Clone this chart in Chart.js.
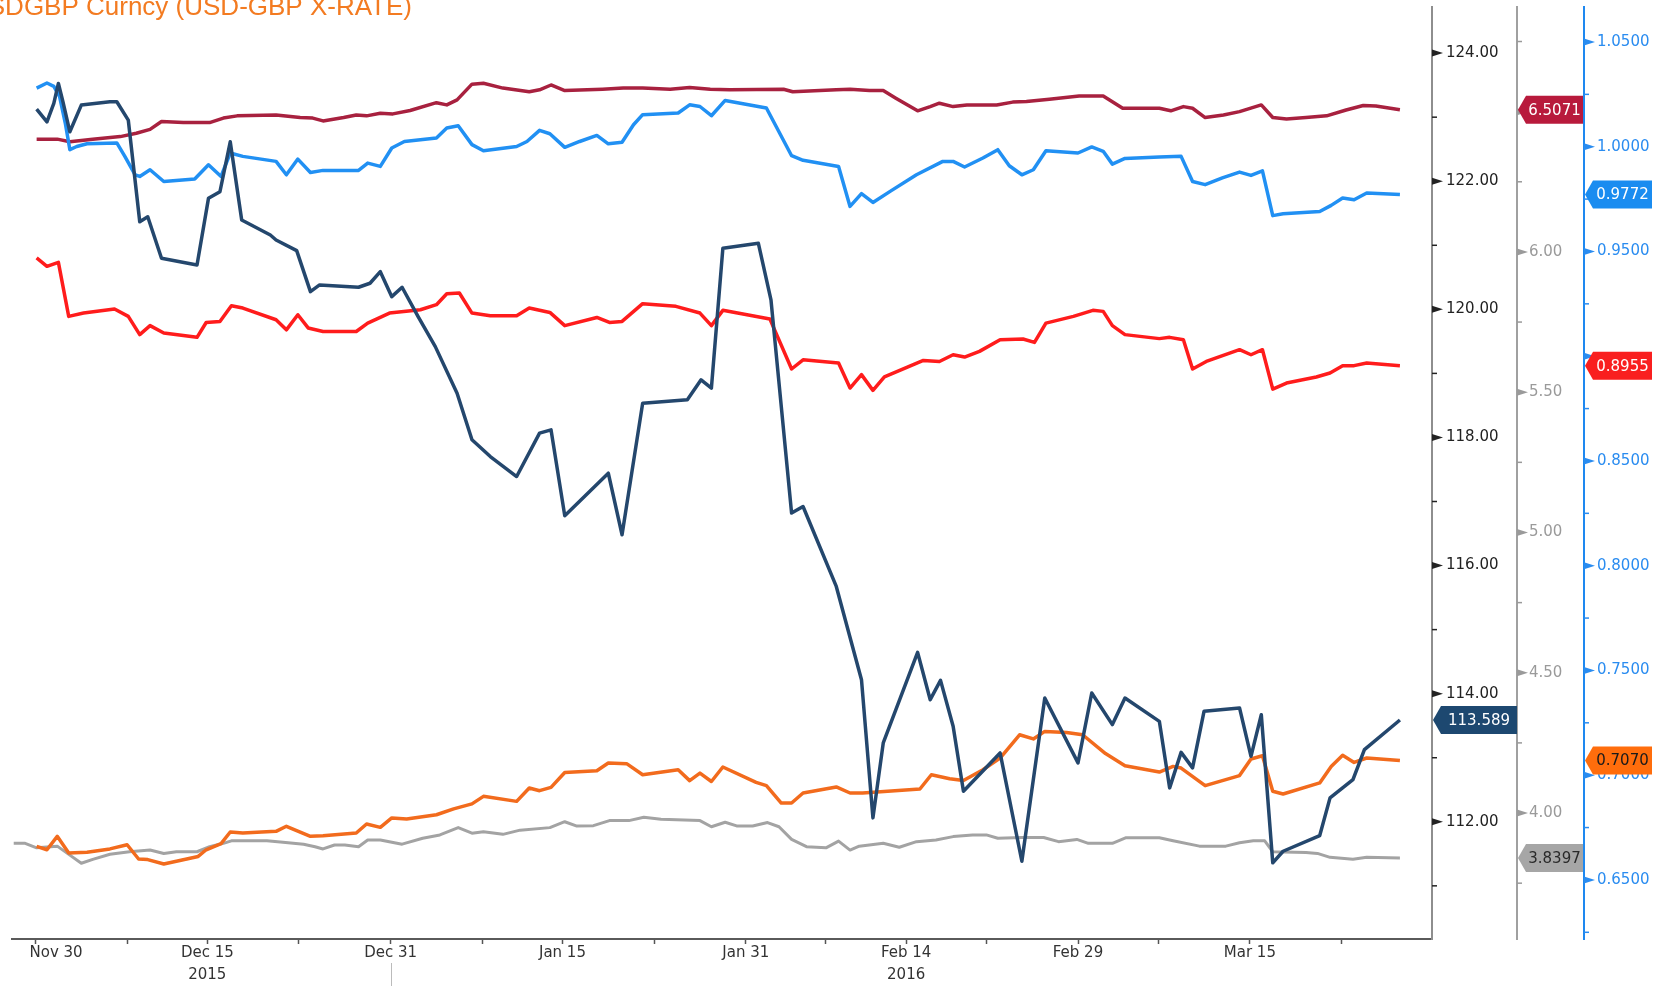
<!DOCTYPE html>
<html>
<head>
<meta charset="utf-8">
<title>USDGBP Curncy (USD-GBP X-RATE)</title>
<script src="https://cdn.jsdelivr.net/npm/chart.js@4.4.1/dist/chart.umd.min.js"></script>
<style>
  html, body { margin: 0; padding: 0; background: #fff; }
  #wrap { position: relative; width: 1663px; height: 986px; }
</style>
</head>
<body>
<div id="wrap"><canvas id="myChart" width="1663" height="986"></canvas></div>
<script>
// x values are days counted from 2015-11-30
const startDate = "2015-11-30";

// x axis labels
const dateTickDates = ["2015-11-30", "2015-12-15", "2015-12-31", "2016-01-15", "2016-01-31", "2016-02-14", "2016-02-29", "2016-03-15"];
const dateTickLabels = ["Nov 30", "Dec 15", "Dec 31", "Jan 15", "Jan 31", "Feb 14", "Feb 29", "Mar 15"];
const yearLabels = ["", "2015", "", "", "", "2016", "", ""];
const minorTickDates = ["2015-12-08", "2015-12-23", "2016-01-08", "2016-01-23", "2016-02-07", "2016-02-21", "2016-03-07", "2016-03-23"];

// y axis labels
const jpyTicks = [112, 114, 116, 118, 120, 122, 124];
const cnyTicks = [4.0, 4.5, 5.0, 5.5, 6.0, 6.5];
const fxTicks = [0.65, 0.70, 0.75, 0.80, 0.85, 0.90, 0.95, 1.00, 1.05];

// USDJPY (navy, left-most right axis)
const jpyDays = [0.1, 1.0, 1.6, 2.0, 2.4, 3.0, 4.0, 6.5, 7.1, 8.1, 9.1, 9.8, 11.0, 14.1, 15.1, 16.1, 17.0, 18.0, 20.5, 21.0, 22.8, 24.0, 24.8, 28.2, 29.2, 30.1, 31.1, 32.0, 33.4, 34.9, 36.8, 38.1, 39.7, 42.0, 44.0, 45.0, 46.2, 50.0, 51.2, 53.0, 56.9, 58.1, 59.0, 60.0, 63.1, 64.2, 66.0, 67.0, 69.9, 72.1, 73.1, 74.0, 77.0, 78.1, 79.0, 80.1, 81.0, 84.2, 86.1, 88.1, 91.0, 92.2, 94.0, 95.1, 98.1, 99.0, 100.0, 101.0, 102.0, 105.1, 106.1, 107.0, 108.0, 108.9, 112.1, 113.0, 115.0, 116.0, 119.1];
const jpyVals = [123.126, 122.928, 123.215, 123.527, 123.240, 122.772, 123.189, 123.240, 123.240, 122.955, 121.368, 121.446, 120.797, 120.693, 121.733, 121.836, 122.616, 121.395, 121.161, 121.083, 120.916, 120.276, 120.381, 120.345, 120.407, 120.588, 120.198, 120.345, 119.886, 119.418, 118.691, 117.963, 117.702, 117.390, 118.067, 118.119, 116.777, 117.443, 116.481, 118.535, 118.587, 118.899, 118.769, 120.953, 121.031, 120.147, 116.819, 116.922, 115.674, 114.218, 112.061, 113.231, 114.644, 113.906, 114.207, 113.490, 112.476, 113.075, 111.384, 113.933, 112.919, 114.011, 113.517, 113.933, 113.568, 112.529, 113.084, 112.841, 113.724, 113.777, 113.022, 113.672, 111.359, 111.540, 111.785, 112.373, 112.658, 113.126, 113.589];

// USDCNY (crimson, grey axis)
const cnyDays = [0.1, 1.9, 3.0, 5.0, 7.4, 8.8, 10.0, 11.0, 12.9, 15.2, 16.4, 17.6, 21.0, 23.1, 24.2, 25.1, 26.9, 28.0, 28.9, 30.1, 31.2, 32.7, 35.0, 35.9, 36.8, 38.1, 39.1, 40.8, 43.1, 44.0, 45.0, 46.2, 49.5, 51.3, 53.0, 55.4, 57.1, 58.9, 60.6, 65.3, 66.1, 69.9, 71.1, 72.8, 74.0, 75.1, 77.0, 78.1, 78.9, 80.1, 81.3, 83.9, 85.3, 86.5, 88.5, 91.1, 93.2, 94.9, 98.1, 99.1, 100.2, 101.0, 102.1, 103.7, 105.1, 107.0, 108.0, 109.2, 110.9, 112.7, 114.4, 115.9, 117.0, 119.1];
const cnyVals = [6.402, 6.402, 6.393, 6.402, 6.411, 6.423, 6.437, 6.465, 6.461, 6.461, 6.477, 6.485, 6.488, 6.479, 6.477, 6.467, 6.479, 6.488, 6.485, 6.494, 6.492, 6.504, 6.532, 6.524, 6.542, 6.598, 6.601, 6.584, 6.571, 6.578, 6.595, 6.575, 6.580, 6.584, 6.584, 6.580, 6.586, 6.580, 6.578, 6.580, 6.571, 6.578, 6.580, 6.575, 6.575, 6.548, 6.503, 6.518, 6.530, 6.518, 6.524, 6.524, 6.534, 6.536, 6.544, 6.556, 6.556, 6.512, 6.512, 6.503, 6.518, 6.512, 6.479, 6.488, 6.500, 6.524, 6.479, 6.474, 6.479, 6.485, 6.506, 6.522, 6.520, 6.5071];

// USDCHF (blue, blue axis)
const chfDays = [0.1, 1.0, 1.6, 2.1, 2.6, 3.0, 3.6, 4.5, 7.1, 7.8, 8.7, 9.1, 10.0, 11.2, 13.9, 15.1, 16.2, 17.0, 18.1, 21.0, 21.9, 22.9, 24.0, 25.1, 28.2, 29.0, 30.1, 31.1, 32.2, 35.0, 35.9, 36.9, 38.1, 39.1, 42.0, 42.9, 44.0, 44.9, 46.2, 47.5, 49.0, 50.0, 51.2, 52.2, 53.0, 56.1, 57.1, 58.0, 59.0, 60.2, 63.8, 66.0, 67.0, 70.1, 71.1, 72.1, 73.1, 74.6, 76.9, 79.2, 80.1, 81.1, 82.7, 84.0, 85.0, 86.1, 87.1, 88.2, 91.0, 92.2, 93.2, 94.0, 95.1, 98.1, 100.0, 101.0, 102.1, 103.6, 105.1, 106.1, 107.1, 108.0, 108.9, 112.1, 113.1, 114.1, 115.1, 116.2, 119.1];
const chfVals = [1.0280, 1.0304, 1.0288, 1.0240, 1.0113, 0.9986, 1.0001, 1.0014, 1.0018, 0.9954, 0.9866, 0.9858, 0.9890, 0.9834, 0.9846, 0.9914, 0.9858, 0.9970, 0.9954, 0.9930, 0.9866, 0.9941, 0.9877, 0.9887, 0.9887, 0.9922, 0.9906, 0.9994, 1.0025, 1.0042, 1.0089, 1.0100, 1.0010, 0.9981, 1.0001, 1.0025, 1.0078, 1.0062, 0.9997, 1.0025, 1.0054, 1.0014, 1.0021, 1.0105, 1.0153, 1.0161, 1.0200, 1.0192, 1.0148, 1.0221, 1.0185, 0.9957, 0.9935, 0.9906, 0.9715, 0.9776, 0.9734, 0.9787, 0.9866, 0.9930, 0.9930, 0.9903, 0.9946, 0.9986, 0.9909, 0.9866, 0.9890, 0.9981, 0.9970, 0.9999, 0.9978, 0.9917, 0.9944, 0.9951, 0.9954, 0.9834, 0.9819, 0.9851, 0.9879, 0.9863, 0.9885, 0.9671, 0.9680, 0.9691, 0.9720, 0.9755, 0.9747, 0.9779, 0.9772];

// USDEUR (red, blue axis)
const eurDays = [0.1, 1.0, 2.0, 2.9, 4.2, 6.9, 8.1, 9.1, 10.0, 11.2, 14.1, 14.9, 16.1, 17.1, 18.1, 21.0, 21.9, 22.9, 23.8, 25.1, 28.0, 29.0, 30.9, 33.6, 35.0, 35.9, 37.0, 38.1, 39.7, 42.0, 43.1, 44.9, 46.2, 49.0, 50.1, 51.2, 53.0, 55.9, 58.0, 59.0, 60.0, 64.1, 66.0, 67.0, 70.1, 71.1, 72.1, 73.1, 74.1, 77.5, 78.9, 80.1, 81.1, 82.4, 84.2, 86.2, 87.2, 88.2, 90.6, 92.3, 93.2, 94.0, 95.1, 98.1, 99.0, 100.2, 101.0, 102.2, 105.1, 106.1, 107.1, 108.0, 109.2, 111.8, 113.0, 114.1, 115.1, 116.2, 119.1];
const eurVals = [0.9469, 0.9429, 0.9448, 0.9190, 0.9206, 0.9225, 0.9190, 0.9103, 0.9146, 0.9111, 0.9090, 0.9161, 0.9166, 0.9241, 0.9230, 0.9174, 0.9126, 0.9198, 0.9135, 0.9118, 0.9118, 0.9158, 0.9206, 0.9222, 0.9246, 0.9298, 0.9302, 0.9206, 0.9193, 0.9193, 0.9230, 0.9209, 0.9146, 0.9185, 0.9161, 0.9166, 0.9251, 0.9238, 0.9206, 0.9146, 0.9219, 0.9178, 0.8939, 0.8983, 0.8968, 0.8848, 0.8912, 0.8837, 0.8901, 0.8980, 0.8975, 0.9007, 0.8996, 0.9023, 0.9079, 0.9082, 0.9066, 0.9158, 0.9190, 0.9219, 0.9214, 0.9146, 0.9103, 0.9084, 0.9090, 0.9079, 0.8939, 0.8975, 0.9031, 0.9007, 0.9031, 0.8843, 0.8872, 0.8901, 0.8920, 0.8955, 0.8955, 0.8968, 0.8955];

// USDGBP (orange, blue axis)
const gbpDays = [0.1, 1.0, 1.9, 2.9, 4.5, 6.5, 8.0, 9.0, 9.8, 11.2, 14.2, 14.9, 16.2, 17.0, 18.1, 21.0, 21.9, 24.0, 25.1, 28.0, 28.9, 30.1, 31.1, 32.4, 35.0, 36.5, 38.1, 39.1, 42.0, 43.1, 44.0, 45.0, 46.2, 49.0, 50.0, 51.6, 53.0, 56.1, 57.1, 58.0, 59.0, 60.0, 62.9, 63.8, 65.1, 66.0, 67.0, 69.9, 71.1, 72.2, 77.2, 78.2, 79.8, 81.0, 82.7, 84.2, 85.9, 87.1, 88.1, 90.0, 91.4, 93.4, 95.1, 98.1, 99.3, 100.0, 102.1, 103.9, 105.1, 106.1, 107.1, 108.0, 108.9, 112.1, 113.1, 114.1, 115.1, 116.2, 119.1];
const gbpVals = [0.6660, 0.6644, 0.6708, 0.6629, 0.6632, 0.6648, 0.6668, 0.6600, 0.6597, 0.6576, 0.6612, 0.6644, 0.6673, 0.6729, 0.6724, 0.6732, 0.6756, 0.6708, 0.6711, 0.6724, 0.6767, 0.6751, 0.6796, 0.6791, 0.6811, 0.6839, 0.6863, 0.6899, 0.6875, 0.6939, 0.6926, 0.6942, 0.7013, 0.7021, 0.7058, 0.7055, 0.7002, 0.7026, 0.6974, 0.7010, 0.6970, 0.7039, 0.6966, 0.6950, 0.6867, 0.6867, 0.6915, 0.6944, 0.6915, 0.6915, 0.6934, 0.7002, 0.6983, 0.6975, 0.7026, 0.7082, 0.7193, 0.7173, 0.7209, 0.7204, 0.7193, 0.7103, 0.7045, 0.7015, 0.7042, 0.7034, 0.6950, 0.6979, 0.6998, 0.7077, 0.7093, 0.6923, 0.6910, 0.6963, 0.7042, 0.7095, 0.7061, 0.7082, 0.7070];

// grey series (grey axis)
const ilsDays = [-1.9, -0.9, 0.1, 1.9, 3.0, 4.0, 5.0, 6.5, 8.2, 10.0, 11.2, 12.3, 14.1, 15.2, 16.4, 17.1, 20.2, 21.6, 23.4, 24.4, 25.1, 26.1, 27.0, 28.2, 29.0, 30.1, 32.0, 33.8, 35.3, 36.9, 38.1, 39.1, 40.8, 42.3, 44.9, 46.2, 47.2, 48.7, 50.1, 51.8, 53.1, 54.6, 58.0, 59.0, 60.2, 61.2, 62.6, 63.9, 64.9, 66.0, 67.3, 69.0, 70.1, 71.1, 71.9, 74.0, 75.4, 76.9, 78.6, 80.1, 81.8, 83.0, 84.0, 86.1, 88.0, 89.3, 90.9, 91.9, 94.0, 95.2, 98.1, 99.3, 101.6, 103.9, 105.1, 106.3, 107.3, 108.0, 110.9, 111.9, 113.0, 115.0, 116.2, 119.1];
const ilsVals = [3.892, 3.892, 3.876, 3.882, 3.850, 3.821, 3.835, 3.853, 3.862, 3.868, 3.856, 3.862, 3.862, 3.880, 3.892, 3.901, 3.901, 3.896, 3.889, 3.880, 3.872, 3.886, 3.886, 3.880, 3.904, 3.904, 3.889, 3.910, 3.922, 3.948, 3.928, 3.933, 3.924, 3.939, 3.948, 3.969, 3.954, 3.955, 3.973, 3.973, 3.985, 3.978, 3.973, 3.951, 3.967, 3.954, 3.954, 3.966, 3.951, 3.906, 3.880, 3.876, 3.900, 3.868, 3.882, 3.892, 3.878, 3.898, 3.904, 3.916, 3.922, 3.922, 3.910, 3.913, 3.913, 3.898, 3.906, 3.892, 3.892, 3.912, 3.912, 3.901, 3.882, 3.882, 3.894, 3.901, 3.901, 3.862, 3.859, 3.856, 3.842, 3.835, 3.842, 3.8397];

const FONT = "'DejaVu Sans', 'Liberation Sans', sans-serif";

function dayIndex(s) {
  return Math.round((Date.parse(s) - Date.parse(startDate)) / 864e5);
}

function toPoints(days, vals) {
  return days.map((d, i) => ({ x: d, y: vals[i] }));
}

// major ticks plus the half steps between them
function buildTicks(majors, min, max) {
  const step = (majors[1] - majors[0]) / 2;
  const out = [];
  const k0 = Math.ceil((min - majors[0]) / step - 1e-9);
  for (let k = k0; majors[0] + k * step <= max + 1e-9; k++) {
    out.push({ value: +(majors[0] + k * step).toFixed(6) });
  }
  return out;
}

function isMajor(v, majors) {
  return majors.some((m) => Math.abs(m - v) < 1e-6);
}

function yAxis(majors, min, max, weight, width, color, lineColor, pad, digits) {
  return {
    type: "linear",
    position: "right",
    weight: weight,
    min: min,
    max: max,
    afterBuildTicks: (s) => { s.ticks = buildTicks(majors, min, max); },
    afterFit: (s) => { s.width = width; s.paddingTop = 0; s.paddingBottom = 0; },
    ticks: {
      autoSkip: false,
      padding: pad,
      color: color,
      font: { family: FONT, size: 15 },
      callback: (v) => (isMajor(v, majors) ? v.toFixed(digits) : ""),
    },
    grid: { drawOnChartArea: false, drawTicks: false },
    border: { color: lineColor, width: 2 },
  };
}

const FLAG_H = 14;

// flag boxes and axis tick marks
const decorPlugin = {
  id: "decor",
  beforeDraw(chart) {
    // tick labels sitting under a flag are hidden by it
    chart.data.datasets.forEach((ds) => {
      const s = chart.scales[ds.yAxisID];
      const yf = s.getPixelForValue(ds.data[ds.data.length - 1].y);
      s.ticks.forEach((t) => {
        if (t.label && Math.abs(s.getPixelForValue(t.value) - yf) < 11) t.label = "";
      });
    });
  },
  afterDraw(chart) {
    const ctx = chart.ctx;
    const area = chart.chartArea;
    ctx.save();

    // title (cut off at the left edge like the screenshot)
    ctx.font = "26px 'Liberation Sans', Arial, sans-serif";
    ctx.fillStyle = "#f37b21";
    ctx.textAlign = "right";
    ctx.textBaseline = "alphabetic";
    ctx.fillText("USDGBP Curncy (USD-GBP X-RATE)", 412, 15);

    // y tick marks: arrows for major ticks, short dashes between
    const majorsById = { yJpy: jpyTicks, yCny: cnyTicks, yFx: fxTicks };
    ["yJpy", "yCny", "yFx"].forEach((id) => {
      const s = chart.scales[id];
      const col = s.options.ticks.color;
      ctx.fillStyle = col;
      ctx.strokeStyle = col;
      ctx.lineWidth = 1.5;
      s.ticks.forEach((t) => {
        const y = s.getPixelForValue(t.value);
        const ax = s.left;
        if (isMajor(t.value, majorsById[id])) {
          ctx.beginPath();
          ctx.moveTo(ax, y - 3.5);
          ctx.lineTo(ax + 11, y);
          ctx.lineTo(ax, y + 3.5);
          ctx.closePath();
          ctx.fill();
        } else {
          ctx.beginPath();
          ctx.moveTo(ax, y);
          ctx.lineTo(ax + 5, y);
          ctx.stroke();
        }
      });
    });

    // x labels
    const xs = chart.scales.x;
    ctx.font = "15px " + FONT;
    ctx.fillStyle = "#333";
    ctx.textBaseline = "middle";
    dateTickDates.forEach((d, i) => {
      const x = xs.getPixelForValue(dayIndex(d));
      const w = ctx.measureText(dateTickLabels[i]).width;
      let tx = x;
      let align = "center";
      if (x - w / 2 < area.left) { align = "left"; tx = x - 6; }
      ctx.textAlign = align;
      ctx.fillText(dateTickLabels[i], tx, area.bottom + 14);
      if (yearLabels[i]) ctx.fillText(yearLabels[i], tx, area.bottom + 36);
    });

    // year separator
    const sepX = Math.round(xs.getPixelForValue(dayIndex("2015-12-31"))) + 0.5;
    ctx.strokeStyle = "#bbb";
    ctx.lineWidth = 1;
    ctx.beginPath();
    ctx.moveTo(sepX, area.bottom + 24);
    ctx.lineTo(sepX, chart.height);
    ctx.stroke();

    // last value flags
    chart.data.datasets.forEach((ds) => {
      const s = chart.scales[ds.yAxisID];
      const last = ds.data[ds.data.length - 1].y;
      const y = s.getPixelForValue(last);
      const tip = s.left + 1;
      const right = tip + ds.flagWidth;
      ctx.fillStyle = ds.flagColor;
      ctx.beginPath();
      ctx.moveTo(tip, y);
      ctx.lineTo(tip + 8, y - FLAG_H);
      ctx.lineTo(right, y - FLAG_H);
      ctx.lineTo(right, y + FLAG_H);
      ctx.lineTo(tip + 8, y + FLAG_H);
      ctx.closePath();
      ctx.fill();
      ctx.fillStyle = ds.flagText;
      ctx.font = "15px " + FONT;
      ctx.textAlign = "center";
      ctx.textBaseline = "middle";
      ctx.fillText(last.toFixed(ds.digits), (tip + 8 + right) / 2, y + 1);
    });

    ctx.restore();
  },
};

function line(label, days, vals, axis, color, width, flagColor, flagText, digits, flagWidth) {
  return {
    label: label,
    data: toPoints(days, vals),
    yAxisID: axis,
    borderColor: color,
    borderWidth: width,
    pointRadius: 0,
    tension: 0,
    borderJoinStyle: "round",
    flagColor: flagColor,
    flagText: flagText,
    digits: digits,
    flagWidth: flagWidth,
  };
}

const xTickDays = dateTickDates.concat(minorTickDates).map(dayIndex).sort((a, b) => a - b);

const config = {
  type: "line",
  data: {
    datasets: [
      line("USDJPY", jpyDays, jpyVals, "yJpy", "#24476d", 3.5, "#1d4870", "#fff", 3, 84),
      line("USDGBP", gbpDays, gbpVals, "yFx", "#f26b1d", 3.5, "#ff6d0c", "#1a1a1a", 4, 67),
      line("USDCHF", chfDays, chfVals, "yFx", "#2190f3", 3.5, "#1a8cf0", "#fff", 4, 67),
      line("USDEUR", eurDays, eurVals, "yFx", "#ff1c1c", 3.5, "#f91f1f", "#fff", 4, 67),
      line("USDCNY", cnyDays, cnyVals, "yCny", "#a8213f", 3.5, "#b81a3c", "#fff", 4, 65),
      line("USDILS", ilsDays, ilsVals, "yCny", "#a3a3a3", 3, "#a6a6a6", "#2a2a2a", 4, 65),
    ],
  },
  options: {
    responsive: false,
    animation: false,
    devicePixelRatio: 1,
    layout: { padding: { left: 12, top: 7, right: 0, bottom: 0 } },
    plugins: {
      legend: { display: false },
      title: { display: false },
      tooltip: { enabled: false },
    },
    scales: {
      x: {
        type: "linear",
        min: -2.05,
        max: 121.9,
        afterBuildTicks: (s) => { s.ticks = xTickDays.map((v) => ({ value: v })); },
        afterFit: (s) => { s.height = 47; s.paddingLeft = 0; s.paddingRight = 0; },
        ticks: { display: false, autoSkip: false },
        grid: { drawOnChartArea: false, drawTicks: true, tickLength: 5, tickColor: "#555", tickWidth: 1.5 },
        border: { color: "#5a5a5a", width: 2 },
      },
      yJpy: yAxis(jpyTicks, 110.17, 124.72, 0, 85, "#222", "#8e8e8e", 14, 2),
      yCny: yAxis(cnyTicks, 3.551, 6.873, 1, 67, "#9a9a9a", "#a0a0a0", 12, 2),
      yFx: yAxis(fxTicks, 0.6218, 1.0667, 2, 79, "#2a8cf0", "#1e88f0", 13, 4),
    },
  },
  plugins: [decorPlugin],
};

const ctx = document.getElementById("myChart").getContext("2d");
new Chart(ctx, config);
</script>
</body>
</html>
